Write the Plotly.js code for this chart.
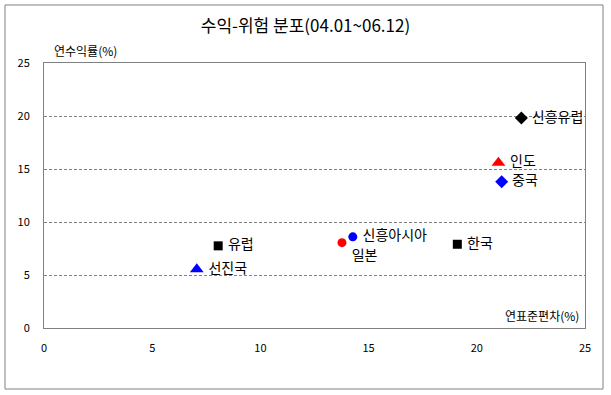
<!DOCTYPE html>
<html>
<head>
<meta charset="utf-8">
<script src="https://cdn.plot.ly/plotly-3.0.1.min.js"></script>
<style>
html,body{margin:0;padding:0;background:#fff;}
#chart{width:611px;height:395px;}
</style>
</head>
<body>
<div id="chart"></div>
<script>
var names = ["신흥유럽", "인도", "중국", "한국", "신흥아시아", "일본", "유럽", "선진국"];
var stdDev = [22.06, 21.0, 21.15, 19.1, 14.27, 13.77, 8.05, 7.06];
var returns = [19.8, 15.6, 13.8, 7.9, 8.6, 8.05, 7.75, 5.55];
var colors = ["#000000", "#ff0000", "#0000ff", "#000000", "#0000ff", "#ff0000", "#000000", "#0000ff"];
var symbols = ["diamond", "triangle-up", "diamond", "square", "circle", "circle", "square", "triangle-up"];
var sizes = [10, 12, 10, 9, 9, 9, 9, 12];
var textPos = ["middle right", "middle right", "middle right", "middle right", "middle right", "bottom right", "middle right", "middle right"];
var xTicks = [0, 5, 10, 15, 20, 25];
var yTicks = [0, 5, 10, 15, 20, 25];

var FONT = "Noto Sans CJK KR, Noto Sans, sans-serif";

var trace = {
  type: "scatter",
  mode: "markers+text",
  x: stdDev,
  y: returns,
  text: names.map(function(n){ return " " + n; }),
  textposition: textPos,
  textfont: {family: FONT, size: 14, color: "#000"},
  marker: {color: colors, symbol: symbols, size: sizes, opacity: 1, line: {width: 0}},
  hoverinfo: "none",
  cliponaxis: false
};

var layout = {
  width: 611, height: 395,
  margin: {l: 44, r: 26, t: 63, b: 67},
  paper_bgcolor: "#fff",
  plot_bgcolor: "#fff",
  showlegend: false,
  title: {text: "수익-위험 분포(04.01~06.12)", font: {family: FONT, size: 17, color: "#000"}, x: 0.5, xanchor: "center", y: 0.935, yanchor: "middle"},
  xaxis: {
    range: [0, 25], tickvals: xTicks, ticktext: xTicks.map(String),
    showgrid: false, zeroline: false, showline: true, linecolor: "#808080", linewidth: 1, mirror: true,
    ticks: "", ticklabelstandoff: 10,
    tickfont: {family: FONT, size: 11, color: "#000"}, fixedrange: true
  },
  yaxis: {
    range: [0, 25], tickvals: yTicks, ticktext: yTicks.map(String),
    showgrid: true, gridcolor: "#808080", griddash: "3px,2px", gridwidth: 1,
    zeroline: false, showline: true, linecolor: "#808080", linewidth: 1, mirror: true,
    ticks: "", ticklabelstandoff: 11,
    tickfont: {family: FONT, size: 11, color: "#000"}, fixedrange: true
  },
  annotations: [
    {text: "연수익률(%)", xref: "paper", yref: "paper", x: 0.015, y: 1.0, yshift: 2, xanchor: "left", yanchor: "bottom", showarrow: false, font: {family: FONT, size: 12, color: "#000"}},
    {text: "연표준편차(%)", xref: "paper", yref: "paper", x: 0.9926, y: 0.0, yshift: 2, xanchor: "right", yanchor: "bottom", showarrow: false, font: {family: FONT, size: 12, color: "#000"}}
  ],
  shapes: [
    {type: "rect", xref: "paper", yref: "paper", x0: -0.0721, x1: 1.0333, y0: -0.2302, y1: 1.2189, line: {color: "#808080", width: 1}, fillcolor: "rgba(0,0,0,0)"}
  ]
};

Plotly.newPlot("chart", [trace], layout, {displayModeBar: false, staticPlot: true});
</script>
</body>
</html>
